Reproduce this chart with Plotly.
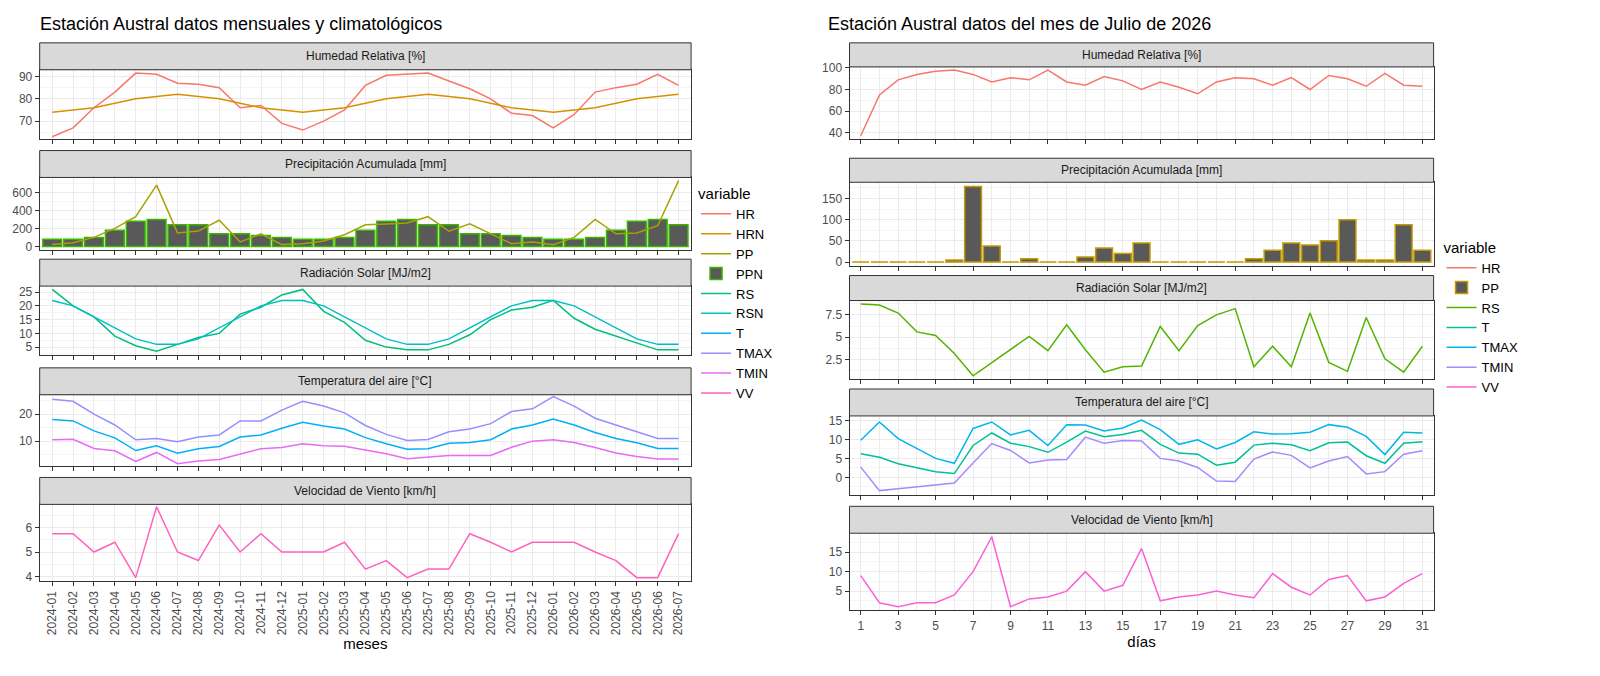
import plotly.graph_objects as go

# ---- left: monthly data ----
meses = [f"{y}-{m:02d}" for y in (2024, 2025, 2026) for m in range(1, 13)][:31]
hr = [63, 67, 76, 83, 91.5, 91, 87, 86.5, 85, 76, 77, 69, 66, 70, 75, 86, 90.5, 91, 91.5, 88, 84.5, 80, 73.5, 72.5, 67, 73, 83, 85, 86.5, 91, 86]
hrn = [74, 75, 76, 78, 80, 81, 82, 81, 80, 78, 76, 75, 74, 75, 76, 78, 80, 81, 82, 81, 80, 78, 76, 75, 74, 75, 76, 78, 80, 81, 82]
pp = [20, 40, 100, 200, 330, 680, 150, 170, 290, 50, 140, 20, 30, 60, 130, 240, 250, 260, 330, 170, 250, 140, 30, 50, 20, 100, 300, 140, 150, 230, 730]
ppn = [80, 80, 100, 180, 280, 300, 240, 240, 140, 140, 120, 100, 80, 80, 100, 180, 280, 300, 240, 240, 140, 140, 120, 100, 80, 80, 100, 180, 280, 300, 240]
rs = [26, 20, 16, 9, 5.5, 3.5, 6, 8.5, 10, 17, 19.5, 24, 26, 18, 14, 7.5, 5, 4, 4, 6, 9.5, 15, 18.5, 19.5, 22, 15.5, 11.5, 9, 6.5, 4, 4]
rsn = [22, 20, 16, 12, 8, 6, 6, 8, 12, 16, 20, 22, 22, 20, 16, 12, 8, 6, 6, 8, 12, 16, 20, 22, 22, 20, 16, 12, 8, 6, 6]
tmax = [25.5, 24.8, 20, 16, 10.5, 11, 9.8, 11.5, 12.3, 17.5, 17.5, 21.5, 24.8, 23, 20.5, 15.8, 12.5, 10.2, 10.6, 13.5, 14.5, 16.5, 21, 22, 26.5, 23, 18.5, 16, 13.5, 11, 11]
tmed = [18, 17.5, 13.8, 11.2, 6.5, 8.3, 5.5, 7.2, 8, 11.5, 12.3, 14.8, 17, 15.6, 14.5, 11.3, 9, 7, 7.2, 9.2, 9.5, 10.5, 14.5, 16, 18.2, 16, 13.2, 11, 9.4, 7.3, 7.3]
tmin = [10.5, 10.7, 7.3, 6.4, 2.5, 5.8, 1.6, 2.6, 3.2, 5.3, 7.2, 7.6, 9, 8.3, 8.1, 6.7, 5.3, 3.5, 4, 4.7, 4.7, 4.7, 7.7, 10, 10.5, 9.5, 7.6, 5.6, 4.3, 3.4, 3.4]
vv = [5.75, 5.75, 5, 5.4, 3.95, 6.85, 5, 4.65, 6.1, 5, 5.75, 5, 5, 5, 5.4, 4.3, 4.65, 3.95, 4.3, 4.3, 5.75, 5.4, 5, 5.4, 5.4, 5.4, 5, 4.65, 3.95, 3.95, 5.75]

# ---- right: daily data, July 2026 ----
dias = list(range(1, 32))
d_hr = [37, 75, 89, 94, 97, 98, 94, 87, 91, 89, 98, 87, 84, 92, 88, 80, 87, 82, 76, 87, 91, 90, 84, 91, 80, 93, 90, 83, 95, 84, 83]
d_pp = [0, 0, 0, 0, 0, 5, 178, 38, 0, 8, 0, 0, 12, 33, 20, 45, 0, 0, 0, 0, 0, 8, 28, 45, 40, 50, 100, 5, 5, 88, 28]
d_rs = [8.7, 8.6, 7.7, 5.6, 5.2, 3.2, 0.7, 2.2, 3.7, 5.1, 3.5, 6.4, 3.6, 1.1, 1.7, 1.8, 6.2, 3.5, 6.3, 7.5, 8.2, 1.7, 4, 1.7, 7.7, 2.2, 1.2, 7.2, 2.6, 1.1, 4]
d_tmax = [9.8, 14.6, 10.2, 7.5, 5, 3.7, 12.9, 14.6, 11.2, 12.4, 8.4, 13.9, 13.8, 12.2, 13, 15.1, 12.6, 8.7, 9.9, 7.5, 9.2, 12, 11.4, 11.5, 11.9, 13.9, 13.2, 10.8, 6, 11.9, 11.7]
d_t = [6.2, 5.3, 3.6, 2.5, 1.5, 1, 8.4, 11.7, 9, 8.1, 6.6, 9.3, 12.2, 10.7, 11.3, 12.4, 8.7, 6.4, 6.1, 3.2, 4, 8.5, 9, 8.6, 7, 9.1, 9.3, 5.7, 3.7, 9, 9.4]
d_tmin = [2.7, -3.5, -3, -2.5, -2, -1.5, 3.8, 8.9, 7.1, 3.8, 4.6, 4.7, 10.6, 9, 9.7, 9.6, 5, 4.3, 2.6, -1, -1.1, 4.8, 6.7, 5.8, 2.5, 4.3, 5.5, 0.9, 1.5, 6.1, 7]
d_vv = [9, 2, 1, 2, 2, 4, 10, 19, 1, 3, 3.5, 5, 10, 5, 6.5, 16, 2.5, 3.5, 4, 5, 4, 3.3, 9.5, 6, 4, 8, 9, 2.5, 3.5, 7, 9.5]

W, H = 1600, 676
FONT = "Liberation Sans"
titles = ["Humedad Relativa [%]", "Precipitación Acumulada [mm]", "Radiación Solar [MJ/m2]",
          "Temperatura del aire [°C]", "Velocidad de Viento [km/h]"]

def px(x):
    return x / W

def py(y):
    return 1 - y / H

fig = go.Figure()
shapes, annots = [], []
layout = {}

# (strip top, plot top, plot bottom) in pixels of the reference
left_rows = [(30, 58, 130), (142, 170, 245), (255, 283, 355), (368, 396, 470), (482, 510, 590)]
right_rows = [(30, 55, 130), (150, 175, 262), (272, 298, 380), (390, 418, 500), (512, 540, 620)]
left_y = [([62, 93], 10, 5), ([-35, 765], 200, 100), ([2, 27.2], 5, 2.5), ([0.8, 27.2], 10, 5), ([3.8, 6.95], 1, 0.5)]
right_y = [([34, 101], 20, 10), ([-9, 188], 50, 25), ([0.3, 9.1], 2.5, 1.25), ([-4.6, 16.2], 5, 2.5), ([0.1, 19.9], 5, 2.5)]

n = 0
for side, rows, yset, (x0, x1) in [("L", left_rows, left_y, (32, 690)), ("R", right_rows, right_y, (850, 1440))]:
    for i, ((st, pt, pb), (yr, dt, mdt)) in enumerate(zip(rows, yset)):
        n += 1
        xa, ya = f"xaxis{n}", f"yaxis{n}"
        last = i == 4
        if side == "L":
            xcfg = dict(type="category", range=[-0.6, 30.6], categoryorder="array", categoryarray=meses,
                        showticklabels=last, tickangle=-90)
        else:
            xcfg = dict(range=[0.4, 31.6], tickvals=list(range(1, 32, 2)), showticklabels=last,
                        minor=dict(dtick=1, tick0=0, showgrid=True, gridcolor="#EBEBEB", gridwidth=1))
        layout[xa] = dict(domain=[px(x0), px(x1)], anchor=f"y{n}", showgrid=True, gridcolor="#EBEBEB",
                          zeroline=False, ticks="outside", ticklen=4, tickcolor="#333333",
                          tickfont=dict(size=12, color="#4D4D4D"), mirror=True, showline=True,
                          linecolor="#333333", linewidth=1, **xcfg)
        if last:
            layout[xa]["title"] = dict(text="meses" if side == "L" else "días", font=dict(size=15, color="black"),
                                       standoff=2)
        layout[ya] = dict(domain=[py(pb), py(pt)], anchor=f"x{n}", range=yr, dtick=dt, showgrid=True,
                          gridcolor="#EBEBEB", zeroline=False, ticks="outside", ticklen=4, tickcolor="#333333",
                          tickfont=dict(size=12, color="#4D4D4D"), mirror=True, showline=True,
                          linecolor="#333333", linewidth=1,
                          minor=dict(dtick=mdt, showgrid=True, gridcolor="#F5F5F5"))
        shapes.append(dict(type="rect", xref="paper", yref="paper", x0=px(x0), x1=px(x1), y0=py(pt), y1=py(st),
                           fillcolor="#D9D9D9", line=dict(color="#333333", width=1)))
        annots.append(dict(xref="paper", yref="paper", x=px((x0 + x1) / 2), y=py((st + pt) / 2),
                           xanchor="center", yanchor="middle",
                           text=titles[i], showarrow=False, font=dict(size=12, color="#1A1A1A")))

rank = [0]

def line(x, y, name, color, n, leg):
    rank[0] += 1
    fig.add_trace(go.Scatter(x=x, y=y, mode="lines", name=name, line=dict(color=color, width=1.5),
                             xaxis=f"x{n}", yaxis=f"y{n}", legend=leg, legendrank=rank[0]))

def bar(x, y, name, color, n, leg):
    rank[0] += 1
    fig.add_trace(go.Bar(x=x, y=y, name=name, width=0.9, marker=dict(color="#595959", line=dict(color=color, width=1.5)),
                         xaxis=f"x{n}", yaxis=f"y{n}", legend=leg, legendrank=rank[0]))

# left, ggplot hue palette for 10 levels
line(meses, hr, "HR", "#F8766D", 1, "legend")
line(meses, hrn, "HRN", "#D89000", 1, "legend")
line(meses, pp, "PP", "#A3A500", 2, "legend")
bar(meses, ppn, "PPN", "#39B600", 2, "legend")
line(meses, rs, "RS", "#00BF7D", 3, "legend")
line(meses, rsn, "RSN", "#00BFC4", 3, "legend")
line(meses, tmed, "T", "#00B0F6", 4, "legend")
line(meses, tmax, "TMAX", "#9590FF", 4, "legend")
line(meses, tmin, "TMIN", "#E76BF3", 4, "legend")
line(meses, vv, "VV", "#FF62BC", 5, "legend")
# draw the PP line above the bars
fig.data = fig.data[:2] + (fig.data[3], fig.data[2]) + fig.data[4:]

# right, ggplot hue palette for 7 levels
line(dias, d_hr, "HR", "#F8766D", 6, "legend2")
bar(dias, d_pp, "PP", "#C49A00", 7, "legend2")
line(dias, d_rs, "RS", "#53B400", 8, "legend2")
line(dias, d_t, "T", "#00C094", 9, "legend2")
line(dias, d_tmax, "TMAX", "#00B6EB", 9, "legend2")
line(dias, d_tmin, "TMIN", "#A58AFF", 9, "legend2")
line(dias, d_vv, "VV", "#FB61D7", 10, "legend2")

annots.append(dict(xref="paper", yref="paper", x=px(30), y=py(10), xanchor="left", yanchor="middle",
                   text="Estación Austral datos mensuales y climatológicos", showarrow=False,
                   font=dict(size=18, color="black")))
annots.append(dict(xref="paper", yref="paper", x=px(826), y=py(10), xanchor="left", yanchor="middle",
                   text="Estación Austral datos del mes de Julio de 2026", showarrow=False,
                   font=dict(size=18, color="black")))

legcommon = dict(title=dict(text="variable", font=dict(size=15)), font=dict(size=13), bgcolor="white",
                 traceorder="normal", itemwidth=30)
fig.update_layout(
    width=W - 16, height=H - 16, margin=dict(l=0, r=0, t=0, b=0), plot_bgcolor="white", paper_bgcolor="white",
    font=dict(family=FONT, color="black"), shapes=shapes, annotations=annots, barmode="overlay",
    legend=dict(x=px(695), y=py(172), xanchor="left", yanchor="top", **legcommon),
    legend2=dict(x=px(1448), y=py(228), xanchor="left", yanchor="top", **legcommon),
    **layout,
)
fig.write_html("out.html")
